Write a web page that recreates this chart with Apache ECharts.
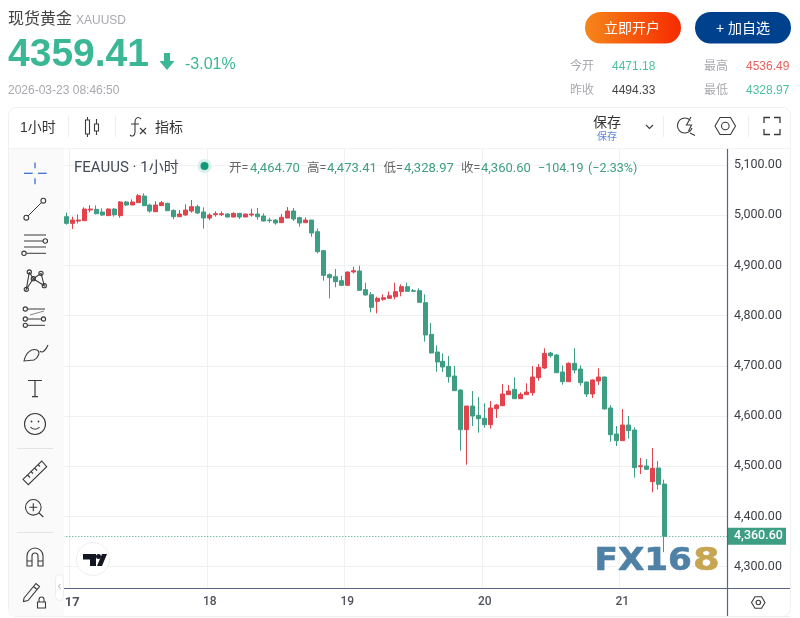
<!DOCTYPE html>
<html><head><meta charset="utf-8">
<style>html,body{margin:0;padding:0;background:#fff}#c{width:800px;height:618px}</style>
<script src="https://cdn.jsdelivr.net/npm/echarts@6/dist/echarts.min.js"></script>
</head><body><div id="c"></div>
<script>
var opens=[4997.3,4984.0,4988.6,4989.3,5010.5,5011.9,5006.6,4999.3,5012.5,4999.3,5026.5,5020.5,5025.2,5038.4,5020.5,5007.2,5019.2,5023.8,5009.9,4997.3,5000.6,
5008.6,5017.2,5006.6,4994.6,5001.3,5001.3,5002.6,4996.6,5003.9,4996.6,5000.6,5002.6,4998.6,4990.6,4990.6,4985.3,4994.6,5008.6,4995.3,4985.3,4990.6,4967.4,4929.6,
4881.8,4877.8,4869.8,4860.5,4887.1,4889.1,4851.9,4841.9,4828.6,4832.6,4834.6,4837.9,4847.9,4857.9,4849.9,4849.9,4826.0,4762.9,4727.7,
4709.1,4699.1,4679.9,4652.0,4573.0,4620.1,4601.5,4595.6,4583.0,4614.8,4620.8,4642.7,4653.3,4634.7,4642.7,4646.7,4676.6,4695.8,4725.7,4721.7,4687.9,4668.6,
4705.1,4693.8,4667.9,4644.0,4669.9,4677.9,4616.2,4564.4,4551.1,4582.3,4572.3,4499.3,4500.6,4469.4,4496.6,4464.70];
var closes=[4984.0,4990.6,4990.6,5012.5,5012.5,5003.2,5000.6,5012.5,5001.2,5026.5,5020.5,5026.5,5039.1,5019.2,5008.5,5020.5,5025.2,5009.2,4997.3,5002.6,5010.5,
5017.2,5004.6,4994.6,5000.6,5003.3,5003.3,4996.6,5003.9,4996.6,5002.6,5002.6,4997.3,4988.6,4989.3,4984.7,4996.0,5008.6,4992.6,4984.7,4990.6,4964.7,4927.6,4880.4,
4875.8,4867.8,4860.5,4887.1,4889.7,4850.6,4841.3,4816.7,4834.6,4835.9,4839.9,4847.9,4857.9,4848.6,4848.6,4826.6,4761.6,4725.7,4707.8,
4697.8,4678.6,4650.7,4573.0,4620.1,4600.2,4594.9,4583.0,4616.2,4622.1,4644.0,4650.0,4634.7,4643.4,4648.0,4677.9,4697.2,4725.0,4720.4,4686.5,4668.6,4705.1,
4691.8,4666.6,4644.0,4671.9,4677.9,4614.2,4563.0,4551.1,4582.3,4571.0,4497.3,4501.3,4494.0,4496.0,4464.1,4360.60];
var lows=[4981.3,4972.7,4984.0,4988.6,5005.9,5001.9,4998.6,4998.6,4997.3,4995.3,5018.5,5020.5,5024.5,5018.5,5005.2,5006.6,5018.5,5008.5,4992.0,4997.3,4999.3,
5005.2,5002.6,4973.4,4990.6,4997.3,4998.6,4996.0,4996.0,4992.6,4996.6,4997.3,4991.3,4988.0,4985.3,4981.3,4984.7,4994.0,4988.6,4977.4,4984.7,4957.4,4924.2,4869.8,
4834.6,4856.5,4860.5,4859.9,4884.4,4849.9,4839.9,4806.7,4804.7,4829.9,4834.0,4832.6,4838.6,4847.9,4847.9,4826.6,4748.3,4725.0,4688.5,
4687.9,4666.6,4650.7,4531.2,4503.3,4580.3,4567.0,4577.0,4575.0,4596.2,4620.1,4642.0,4634.1,4634.1,4642.0,4640.7,4670.6,4693.8,4716.4,4686.5,4662.6,4668.6,
4685.2,4660.6,4638.1,4636.1,4662.0,4613.5,4549.1,4540.4,4550.4,4555.1,4477.4,4484.7,4493.3,4448.2,4453.5,4328.97];
var highs=[5005.2,4997.3,5001.9,5015.9,5020.5,5019.8,5013.9,5013.9,5014.5,5028.5,5028.5,5031.8,5042.4,5043.7,5023.2,5027.8,5028.5,5025.2,5011.9,5010.5,5021.8,
5030.5,5021.2,5015.9,5003.9,5007.9,5007.9,5004.6,5005.9,5004.6,5003.3,5013.2,5014.5,5003.9,4995.3,4992.6,5002.6,5016.5,5014.5,4997.3,4996.0,4990.6,4974.0,4930.9,
4884.4,4893.1,4879.1,4887.7,4897.7,4899.7,4865.8,4847.2,4837.9,4842.6,4847.9,4865.8,4862.5,4865.8,4853.2,4854.5,4842.6,4785.5,4741.0,
4725.0,4719.7,4699.8,4653.3,4620.1,4650.0,4638.1,4625.4,4630.1,4624.1,4664.0,4662.0,4677.2,4647.4,4665.3,4699.8,4703.8,4735.0,4727.7,4723.7,4701.1,4707.1,
4735.0,4701.1,4668.6,4673.2,4695.2,4678.6,4621.5,4580.3,4614.2,4600.2,4577.6,4516.5,4514.5,4536.5,4510.6,4473.41];
var dayLabels={1:'17',24:'18',47:'19',70:'20',93:'21'};
var barSlots=111;
var priceTicks=[4300,4400,4500,4600,4700,4800,4900,5000,5100];
var lastClose=4360.60;
var legendOHLC=[['开=',229,'4,464.70',250],['高=',307,'4,473.41',327],['低=',383.5,'4,328.97',404],['收=',461,'4,360.60',481]];

var GREEN='#3d9e84',RED='#e2434d',UP='#3ab795',GRAYT='#a8a8ae',ICON='#3a3a3a';
var CJK='"Liberation Sans","Noto Sans CJK SC",sans-serif',RB='Roboto,"Noto Sans CJK SC",sans-serif';
var els=[],pathN=0;
function T(t,x,y,o){o=o||{};els.push({type:'text',z:20,x:x,y:y,silent:true,style:{text:t,fill:o.c||'#333',font:(o.w||'normal')+' '+(o.s||12)+'px '+(o.f||CJK),textAlign:o.a||'left',textVerticalAlign:'middle'}});}
function P(d,o){o=o||{};var name='iconPath'+(pathN++);echarts.graphic.registerShape(name,echarts.graphic.extendPath(d,{}));els.push({type:name,z:o.z||20,silent:true,style:{fill:o.fill||'none',stroke:o.fill&&!o.stroke?null:(o.stroke||ICON),lineWidth:o.lw||1.1}});}
function C(x,y,r,o){o=o||{};els.push({type:'circle',z:o.z||20,silent:true,shape:{cx:x,cy:y,r:r},style:{fill:o.fill||'none',stroke:o.noStroke?null:(o.stroke||ICON),lineWidth:o.lw||1.1}});}
function R(x,y,w,h,o){o=o||{};els.push({type:'rect',z:o.z||10,silent:true,shape:{x:x,y:y,width:w,height:h,r:o.r||0},style:{fill:o.fill||'none',stroke:o.stroke||null,lineWidth:o.lw||1}});}
function L(x1,y1,x2,y2,c,lw){els.push({type:'line',z:20,silent:true,shape:{x1:x1,y1:y1,x2:x2,y2:y2},style:{stroke:c||ICON,lineWidth:lw||1}});}

// page chrome
R(0,0,800,107,{fill:'#fff',z:5});
R(8.5,107.5,782,509,{stroke:'#f0f0f0',r:8,z:6});
R(9,108,781,40,{fill:'#fff',r:8,z:7});
L(9,148.5,790,148.5,'#f3f3f3',1);
R(9,149,55,467,{fill:'#fafafa',z:7});
R(786,149,4,440,{fill:'#fff',z:7});
// header
T('现货黄金',8,20,{s:16,c:'#444'});
T('XAUUSD',76,20.5,{s:12,c:GRAYT});
T('4359.41',8,55,{s:39,w:'bold',c:UP});
P('M164 53H170V61H174.5L167 70L159.5 61H164Z',{fill:UP});
T('-3.01%',185,64.5,{s:16,c:UP});
T('2026-03-23 08:46:50',8,90.5,{s:12,c:GRAYT});
els.push({type:'rect',z:10,silent:true,shape:{x:585,y:12,width:96,height:31.5,r:15.7},style:{fill:new echarts.graphic.LinearGradient(0,0,1,0,[{offset:0,color:'#f6861a'},{offset:1,color:'#f62b00'}])}});
T('立即开户',632,29,{s:14,c:'#fff',a:'center'});
R(695,12,96,31.5,{fill:'#00418e',r:15.7});
T('+ 加自选',743,29,{s:14,c:'#fff',a:'center'});
T('今开',570,67,{c:GRAYT});T('4471.18',612,67,{c:'#4cbf9f'});
T('最高',704,67,{c:GRAYT});T('4536.49',746,67,{c:'#e8625f'});
T('昨收',570,91,{c:GRAYT});T('4494.33',612,91,{c:'#444'});
T('最低',704,91,{c:GRAYT});T('4328.97',746,91,{c:'#4cbf9f'});
// top toolbar
T('1小时',20,128,{s:14});
L(68.5,116,68.5,137,'#eeeeee',1);
L(87.5,117,87.5,120,ICON,1.1);L(87.5,134,87.5,137,ICON,1.1);R(85.5,120,4,14,{stroke:ICON,lw:1.1,z:20});
L(96.5,119,96.5,124,ICON,1.1);L(96.5,131,96.5,135,ICON,1.1);R(94.5,124,4,7,{stroke:ICON,lw:1.1,z:20});
L(115.5,116,115.5,137,'#eeeeee',1);
P('M141 119C138 116 135 118 135 122V132C135 136 132 137 130 135M131 124H139M140 128L146 134M146 128L140 134');
T('指标',155,128,{s:14});
T('保存',593,123,{s:14});
T('保存',597,137,{s:10,c:'#5b82e6'});
P('M646 125L649.5 128.5L653 125');
L(663.5,116,663.5,137,'#eeeeee',1);
P('M690.5 120.5A7.5 7.5 0 1 0 692 128M690 133L695 135.5M691 117L686.5 125H691.5L688.5 131');
P('M715 126L720 117.5H730.5L735.5 126L730.5 134.5H720Z');
C(725.3,126,3.8);
L(748.5,116,748.5,137,'#eeeeee',1);
P('M764 123V117.5H770M774 117.5H780V123M780 129V134.5H774M770 134.5H764V129',{lw:1.3});
// left toolbar
var B='#3c6fd8';
L(24,173.3,32.7,173.3,B,1.3);L(38,173.3,46.7,173.3,B,1.3);L(35,162.5,35,168.3,B,1.3);L(35,178.3,35,184.3,B,1.3);
L(28,216,41.5,202.5);C(43.3,200.7,2.4);C(26.3,217.7,2.4);
L(24,235,46,235);L(24,241,43,241);C(45.3,241,2.2);L(24,247,46,247);L(26.5,253.3,46,253.3);C(24,253.3,2.2);
P('M29.3 272L33.3 278.7L26.3 289.3L29.3 272M33.3 278.7L41 273.3L44.3 285.7L33.3 278.7');C(29.3,272,2.1);C(41,273.3,2.1);C(33.3,278.7,2.1);C(44.3,285.7,2.1);C(26.3,289.3,2.1);
L(27.5,309,45,309);C(25.3,309,2.1);L(27.5,319,41,319);C(43.5,319,2.1);C(25.3,319,2.1);L(27.5,325.3,45,325.3);C(25.3,325.3,2.1);
P('M30 315L44 311',{stroke:'#666',lw:.8});
P('M40 351C42 354 46 350 48 345M24 361C26 352 32 348 37 350C41 352 38 358 34 360Z');
P('M28 380.5H42M35 380.5V396.7M32 396.7H38',{lw:1.2});
C(35,424,10.5);C(31.5,421.5,.9,{fill:ICON,noStroke:true});C(38.5,421.5,.9,{fill:ICON,noStroke:true});P('M30.5 427C32.5 430 37.5 430 39.5 427');
L(17,448.5,53,448.5,'#e4e4e4',1);
P('M23 479.3L41.7 461L46.7 466.7L28.3 484.7ZM27.5 475L30 477.5M31 471.5L33 473.5M34.5 468L37 470.5M38 464.5L40 466.5');
C(33.3,507.3,7.8);P('M33.3 503.3V511.3M29.3 507.3H37.3M39 513L43.3 517');
L(17,532.5,53,532.5,'#e4e4e4',1);
P('M27 566V556A8 8 0 0 1 43 556V566H38V556A3 3 0 0 0 32 556V566ZM27 561H32M38 561H43');
P('M24 598L36 583.5L39.5 586.5L28 600.5L23.5 601.5ZM33.5 586.5L37 589.5M37.5 602V608H45.5V602ZM39 602V599.5A2.5 2.5 0 0 1 44 599.5V602');
R(55.5,574.5,8,26,{fill:'#fff',stroke:'#eeeeee',r:4,z:12});
T('‹',59.5,586.5,{s:12,c:'#bbb',a:'center'});
// pane legend
T('FEAUUS · 1小时',74,168,{s:15,c:'#444a5a',f:RB});
C(204.5,166,7,{fill:'#d9efe9',noStroke:true});C(204.5,166,4,{fill:'#14987a',noStroke:true});
legendOHLC.forEach(function(r){T(r[0],r[1],169,{s:12.5,c:'#666',f:RB});T(r[2],r[3],169,{s:13,c:GREEN,f:RB});});
T('−104.19',538,169,{s:12.5,c:GREEN,f:RB});
T('(−2.33%)',588,169,{s:12.5,c:GREEN,f:RB});
// TradingView badge
C(93,559,16.5,{fill:'#fff',stroke:'#eeeeee',lw:1});
P('M83 554H96V566H90V559.5H83Z',{fill:'#131722'});C(98.5,556.5,2.5,{fill:'#131722',noStroke:true});P('M97 566L102 554H107L102 566Z',{fill:'#131722'});
// watermark
function W(t,x,fill,sx){els.push({type:'text',z:20,x:x,y:561.5,scaleX:sx,silent:true,style:{text:t,font:'bold 32px "DejaVu Sans"',textVerticalAlign:'middle',fill:fill,stroke:fill,lineWidth:.6,shadowColor:'rgba(0,0,0,.4)',shadowBlur:2,shadowOffsetX:1,shadowOffsetY:1}});}
W('FX16',594.5,'#4f80a6',1.07);
W('8',693,'#c6a553',1.2);
// axis frame
L(727.5,149,727.5,616,'#5c6280',1.2);
L(64,588.5,790,588.5,'#5c6280',1.2);
L(64,616.5,790,616.5,'#eeeeee',1);
P('M751.5 602.5L755 596.7H761.6L765 602.5L761.6 608.3H755Z');C(758.3,602.5,2.2);

var cats=[];for(var i=0;i<barSlots;i++)cats.push(dayLabels[i]||'');
function isDay(i){return dayLabels[i]!==undefined;}
var candles=opens.map(function(o,i){return [o,closes[i],lows[i],highs[i]];});
function money(v){return v.toLocaleString('en-US',{minimumFractionDigits:2,maximumFractionDigits:2});}
var chart=echarts.init(document.getElementById('c'));
chart.setOption({
 animation:false,
 backgroundColor:'#fff',
 grid:{left:63.3,right:73,top:149,bottom:30},
 xAxis:{type:'category',data:cats,boundaryGap:true,
  axisLine:{show:false},
  axisTick:{show:false,alignWithLabel:true,interval:isDay},
  splitLine:{show:true,interval:isDay,lineStyle:{color:'#f1f1f1',width:1}},
  axisLabel:{interval:isDay,margin:8,color:'#50535e',fontFamily:'Roboto',fontSize:12,fontWeight:500,
   formatter:function(v){return v==='17'?'{b|17}':v;},rich:{b:{fontFamily:'Roboto',fontWeight:700,fontSize:13,color:'#50535e'}}}},
 yAxis:{type:'value',position:'right',min:4257.6,max:5132.1,scale:true,
  axisLine:{show:false},
  axisTick:{show:false,customValues:priceTicks},
  splitLine:{show:true,lineStyle:{color:'#f1f1f1',width:1}},
  axisLabel:{customValues:priceTicks,margin:7,padding:[2,0,0,0],color:'#3d3f47',fontFamily:'Roboto',fontSize:12.5,formatter:money}},
 series:[{type:'candlestick',data:candles,barWidth:4.5,clip:true,silent:true,
  itemStyle:{color:RED,color0:GREEN,borderColor:RED,borderColor0:GREEN,borderWidth:1},
  markLine:{silent:true,symbol:'none',animation:false,
   data:[{yAxis:lastClose}],
   lineStyle:{type:[1,2],color:GREEN,width:1},
   label:{position:'end',distance:0,formatter:function(){return money(lastClose);},color:'#fff',backgroundColor:'#3d9e84',fontFamily:'Roboto',fontSize:12.5,fontWeight:500,padding:[2,7,2,7]}}}],
 graphic:{elements:els}
});
</script></body></html>
